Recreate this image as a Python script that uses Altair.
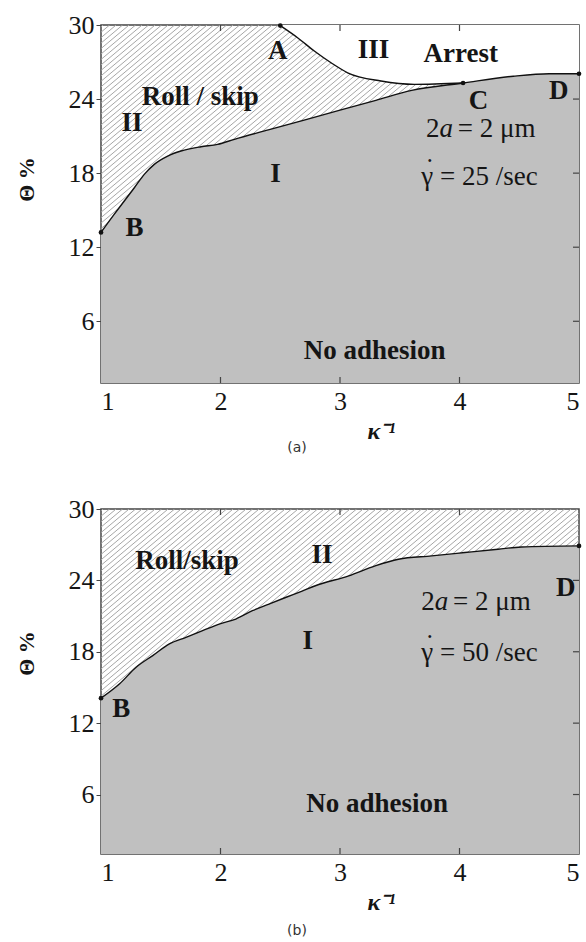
import altair as alt
import numpy as np
import pandas as pd

# ---- panel (a): 2a = 2 um, shear rate 25 /sec ----
a_lower_k = [1.0, 1.11, 1.195, 1.279, 1.362, 1.446, 1.558, 1.669, 1.837, 1.976, 2.116,
             2.4, 2.7, 3.0, 3.3, 3.6, 4.03, 4.45, 4.75, 5.0]
a_lower_t = [13.2, 14.66, 15.74, 16.82, 17.9, 18.71, 19.38, 19.79, 20.14, 20.33, 20.74,
             21.5, 22.3, 23.1, 23.9, 24.7, 25.3, 25.85, 26.05, 26.05]
a_upper_k = [2.5, 2.645, 2.785, 2.925, 3.064, 3.343, 3.622, 4.03]
a_upper_t = [29.95, 28.97, 27.89, 26.94, 26.13, 25.46, 25.19, 25.3]
a_points_k = [2.5, 1.0, 4.03, 5.0]
a_points_t = [29.95, 13.2, 25.3, 26.05]

# ---- panel (b): 2a = 2 um, shear rate 50 /sec ----
b_lower_k = [1.0, 1.156, 1.294, 1.433, 1.572, 1.711, 1.85, 1.989, 2.128, 2.267, 2.406,
             2.544, 2.683, 2.794, 3.073, 3.294, 3.489, 3.767, 4.044, 4.322, 4.517, 5.0]
b_lower_t = [14.1, 15.31, 16.7, 17.68, 18.66, 19.21, 19.77, 20.33, 20.75, 21.45, 22.01,
             22.56, 23.1, 23.55, 24.38, 25.22, 25.78, 26.06, 26.34, 26.62, 26.81, 26.9]
b_points_k = [1.0, 5.0]
b_points_t = [14.1, 26.9]

x_ticks = [1, 2, 3, 4, 5]
y_ticks = [6, 12, 18, 24, 30]
X_DOM = [1, 5]
Y_DOM = [1, 30]

SERIF = "Liberation Serif, Times New Roman, serif"
INK = "#151515"

# annotation text: (kappa, theta, text, bold, italic, align, dx, dy)
a_notes = [
    (2.48, 27.9, "A", True, False, "center", 0, 0),
    (3.28, 27.97, "III", True, False, "center", 0, 0),
    (4.01, 27.65, "Arrest", True, False, "center", 0, 0),
    (1.83, 24.17, "Roll / skip", True, False, "center", 0, 0),
    (1.26, 22.06, "II", True, False, "center", 0, 0),
    (2.46, 17.93, "I", True, False, "center", 0, 0),
    (1.28, 13.55, "B", True, False, "center", 0, 0),
    (4.16, 23.84, "C", True, False, "center", 0, 0),
    (4.83, 24.65, "D", True, False, "center", 0, 0),
    (3.29, 3.6, "No adhesion", True, False, "center", 0, 0),
    (3.72, 21.57, "2", False, False, "left", 0, 0),
    (3.833, 21.57, "a", False, True, "left", 0, 0),
    (3.985, 21.57, "= 2 μm", False, False, "left", 0, 0),
    (3.68, 17.7, "γ = 25 /sec", False, False, "left", 0, 0),
    (3.68, 17.7, "˙", False, False, "left", 4, -8),
]
b_notes = [
    (1.72, 25.63, "Roll/skip", True, False, "center", 0, 0),
    (2.85, 26.13, "II", True, False, "center", 0, 0),
    (2.73, 18.9, "I", True, False, "center", 0, 0),
    (4.89, 23.36, "D", True, False, "center", 0, 0),
    (1.17, 13.2, "B", True, False, "center", 0, 0),
    (3.31, 5.2, "No adhesion", True, False, "center", 0, 0),
    (3.68, 22.2, "2", False, False, "left", 0, 0),
    (3.793, 22.2, "a", False, True, "left", 0, 0),
    (3.945, 22.2, "= 2 μm", False, False, "left", 0, 0),
    (3.68, 17.9, "γ = 50 /sec", False, False, "left", 0, 0),
    (3.68, 17.9, "˙", False, False, "left", 4, -8),
]

W = 478
XS = alt.Scale(domain=X_DOM, nice=False, zero=False)
YS = alt.Scale(domain=Y_DOM, nice=False, zero=False)


def xs():
    return alt.X("k:Q", scale=XS)


def ys():
    return alt.Y("t:Q", scale=YS)


def panel(lower_k, lower_t, points_k, points_t, notes, caption, H,
          upper_k=None, upper_t=None, title_y=150, caption_offset=-2):
    lower = pd.DataFrame({"k": lower_k, "t": lower_t, "floor": Y_DOM[0]})

    # diagonal hatching for the roll / skip region
    slope = np.tan(np.radians(40)) * (W / (X_DOM[1] - X_DOM[0])) / (H / (Y_DOM[1] - Y_DOM[0]))
    span = (Y_DOM[1] - Y_DOM[0]) / slope
    starts = np.arange(X_DOM[0] - span - 0.2, X_DOM[1] + 0.1, 6.5 / (W / 4))
    hatch = pd.DataFrame({"k": starts, "k2": starts + span,
                          "t": Y_DOM[0], "t2": Y_DOM[1]})
    hatch_layer = alt.Chart(hatch).mark_rule(color="#a6a6a6", strokeWidth=1, clip=True).encode(
        x=alt.X("k:Q", scale=XS,
                axis=alt.Axis(values=x_ticks, format="d", ticks=False, labelPadding=5,
                              labelFont=SERIF, labelFontSize=26, labelColor=INK,
                              domain=False, grid=False,
                              title="κ⁻¹", titleFont=SERIF, titleFontSize=24,
                              titleFontStyle="italic", titleFontWeight="bold",
                              titleColor=INK, titleX=280, titleY=55,
                              titleBaseline="alphabetic")),
        x2="k2:Q",
        y=alt.Y("t:Q", scale=YS,
                axis=alt.Axis(values=y_ticks, tickSize=5, tickColor="#444",
                              labelFont=SERIF, labelFontSize=26, labelColor=INK,
                              labelPadding=2, domain=False, grid=False,
                              title="Θ %", titleFont=SERIF, titleFontSize=22,
                              titleColor=INK, titleX=-75, titleY=title_y,
                              titleAngle=270, titleAlign="center",
                              titleBaseline="middle")),
        y2="t2:Q",
    )

    layers = [hatch_layer]

    if upper_k is not None:
        # arrest region: above the A-C curve and the C-D boundary
        ck = upper_k[-1]
        seg = [(k, t) for k, t in zip(lower_k, lower_t) if k > ck]
        arrest = pd.DataFrame({"k": list(upper_k) + [p[0] for p in seg],
                               "t": list(upper_t) + [p[1] for p in seg],
                               "top": Y_DOM[1]})
        layers.append(alt.Chart(arrest).mark_area(color="white", interpolate="monotone",
                                                  clip=True).encode(
            x=xs(), y=ys(), y2="top:Q"))

    layers.append(alt.Chart(lower).mark_area(color="#c0c0c0", interpolate="monotone",
                                             clip=True).encode(
        x=xs(), y=ys(), y2="floor:Q"))

    layers.append(alt.Chart(lower).mark_line(color="#111", strokeWidth=1.4,
                                             interpolate="monotone").encode(
        x=xs(), y=ys()))
    if upper_k is not None:
        upper = pd.DataFrame({"k": upper_k, "t": upper_t})
        layers.append(alt.Chart(upper).mark_line(color="#111", strokeWidth=1.4,
                                                 interpolate="monotone").encode(
            x=xs(), y=ys()))

    # inner tick marks on bottom, top and right edges
    inner_x = pd.DataFrame({"k": x_ticks[1:-1]})
    layers.append(alt.Chart(inner_x).mark_rule(color="#444", strokeWidth=1.2).encode(
        x=xs(), y=alt.value(H), y2=alt.value(H - 6)))
    layers.append(alt.Chart(inner_x).mark_rule(color="#444", strokeWidth=1.2).encode(
        x=xs(), y=alt.value(0), y2=alt.value(6)))
    inner_y = pd.DataFrame({"t": y_ticks[:-1]})
    layers.append(alt.Chart(inner_y).mark_rule(color="#444", strokeWidth=1.2).encode(
        y=ys(), x=alt.value(W), x2=alt.value(W - 6)))

    pts = pd.DataFrame({"k": points_k, "t": points_t})
    layers.append(alt.Chart(pts).mark_circle(color="#111", size=22, opacity=1).encode(
        x=xs(), y=ys()))

    nd = pd.DataFrame(notes, columns=["k", "t", "label", "bold", "italic", "align", "dx", "dy"])
    for (bold, italic, align, dx, dy), grp in nd.groupby(["bold", "italic", "align", "dx", "dy"]):
        layers.append(alt.Chart(grp).mark_text(
            font=SERIF, fontSize=27,
            fontWeight="bold" if bold else "normal",
            fontStyle="italic" if italic else "normal",
            align=align, baseline="middle", color=INK,
            dx=int(dx), dy=int(dy)).encode(
            x=xs(), y=ys(), text="label:N"))

    return alt.layer(*layers).properties(
        width=W, height=H,
        title=alt.TitleParams(caption, orient="bottom", anchor="middle",
                              font="DejaVu Sans", fontSize=14, fontWeight="normal",
                              color="#333", offset=caption_offset, dx=-43),
    )


top = panel(a_lower_k, a_lower_t, a_points_k, a_points_t, a_notes, "(a)", 358,
            upper_k=a_upper_k, upper_t=a_upper_t, title_y=154, caption_offset=-2)
bottom = panel(b_lower_k, b_lower_t, b_points_k, b_points_t, b_notes, "(b)", 345,
               title_y=144, caption_offset=10)

chart = alt.vconcat(top, bottom, spacing=39).properties(
    background="white",
    padding={"left": 14, "top": 11, "right": 0, "bottom": 0},
).configure_view(stroke="#444", strokeWidth=1.5)

chart.save("out.html", embed_options={"renderer": "svg", "actions": False})
